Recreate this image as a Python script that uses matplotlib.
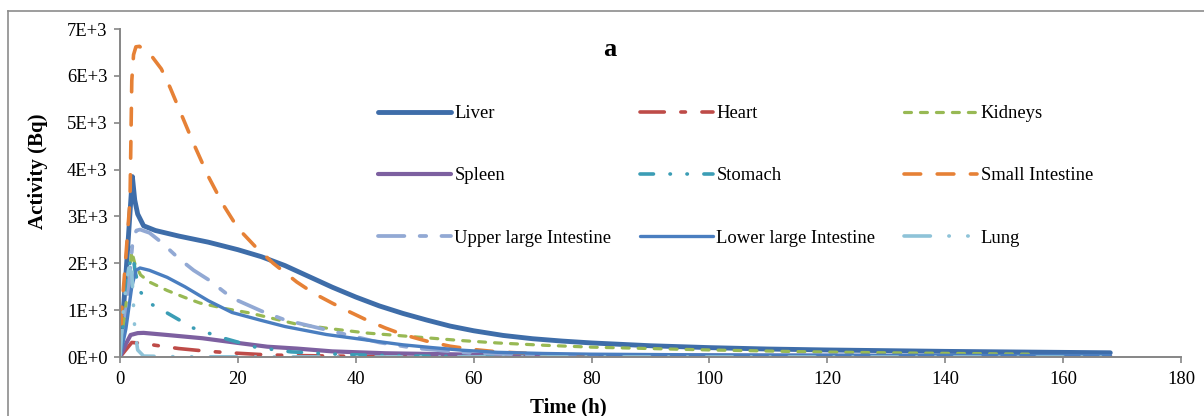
import matplotlib
matplotlib.use("Agg")
import matplotlib.pyplot as plt
from matplotlib.lines import Line2D

plt.rcParams['font.family'] = ['Liberation Serif', 'DejaVu Serif']
plt.rcParams['lines.scale_dashes'] = False

# ---- data ----
liver_t = [0, 1, 2.1, 2.5, 3, 4, 6, 10, 15, 20, 24, 28, 32, 36, 40, 44, 48, 52, 56, 60,
           65, 70, 75, 80, 90, 100, 110, 120, 140, 168]
liver_v = [0, 1750, 3850, 3350, 3050, 2800, 2700, 2580, 2450, 2290, 2140, 1950, 1720, 1490,
           1280, 1090, 930, 790, 660, 560, 460, 390, 340, 300, 240, 200, 170, 150, 120, 90]

heart_t = [0, 2, 4, 6, 10, 15, 20, 25, 30, 40, 50, 60, 80, 168]
heart_v = [0, 310, 290, 250, 180, 120, 80, 45, 30, 15, 8, 4, 2, 0]

kidney_t = [0, 1, 2, 2.5, 3.5, 5, 8, 11, 13.6, 18, 22, 26, 30, 36, 42, 48, 53, 58, 64, 72,
            80, 90, 100, 115, 130, 155]
kidney_v = [0, 1100, 2250, 2000, 1750, 1600, 1420, 1270, 1150, 1030, 940, 820, 700, 600,
            510, 450, 400, 350, 300, 250, 210, 180, 150, 115, 90, 60]

spleen_t = [0, 1, 1.8, 3, 4, 8, 14, 20, 25, 30, 36, 45, 60, 80, 120, 168]
spleen_v = [0, 280, 470, 510, 515, 470, 400, 300, 220, 180, 120, 80, 50, 35, 25, 15]

stomach_t = [0, 1, 2, 2.6, 3.4, 5, 8, 12.4, 17.5, 23, 29, 35, 40, 50, 60, 80, 168]
stomach_v = [0, 1300, 2350, 1800, 1400, 1150, 940, 620, 405, 210, 110, 70, 45, 20, 10, 3, 0]

small_t = [0, 0.3, 0.85, 1.7, 2.0, 2.3, 2.7, 3.3, 4, 5.5, 7, 8.5, 10, 12.5, 15, 17.5, 20,
           23, 26, 30, 33, 36, 39, 42, 45, 48, 52, 56, 60, 64, 72, 80, 100, 140, 168]
small_v = [0, 1000, 1900, 3350, 5900, 6450, 6620, 6630, 6560, 6400, 6150, 5750, 5300, 4550,
           3850, 3250, 2750, 2350, 2000, 1600, 1350, 1150, 960, 780, 620, 480, 340, 230, 160,
           110, 60, 30, 10, 2, 0]

uli_t = [0, 1.5, 2.2, 2.8, 3.4, 5, 7, 10, 12.5, 15, 19, 24, 28, 33, 38, 44, 50, 60, 80, 168]
uli_v = [0, 1500, 2550, 2700, 2720, 2650, 2450, 2100, 1850, 1650, 1260, 980, 790, 640, 490,
         310, 190, 80, 20, 0]

lli_t = [0, 1, 2, 2.7, 3.4, 5, 8, 11, 15, 19, 24, 28, 35, 42, 48, 53, 58, 64, 72, 80, 100,
         130, 168]
lli_v = [0, 600, 1500, 1850, 1900, 1850, 1700, 1500, 1200, 950, 780, 650, 480, 360, 260, 200,
         145, 100, 75, 60, 45, 35, 30]

lung_t = [0, 0.5, 1, 1.5, 2, 2.5, 3, 4, 10, 30, 168]
lung_v = [0, 900, 1500, 1900, 1800, 600, 150, 20, 5, 2, 0]

yticks = [0, 1000, 2000, 3000, 4000, 5000, 6000, 7000]
ytick_labels = ['0E+0', '1E+3', '2E+3', '3E+3', '4E+3', '5E+3', '6E+3', '7E+3']
xticks = [0, 20, 40, 60, 80, 100, 120, 140, 160, 180]

fig = plt.figure(figsize=(12.04, 4.16), dpi=100)
ax = fig.add_axes([120 / 1204, 59 / 416, 1061 / 1204, 328 / 416])

common = dict(solid_capstyle='round', dash_capstyle='round', solid_joinstyle='round')
l_liver, = ax.plot(liver_t, liver_v, color='#3E6DA9', lw=3.5, label='Liver', **common)
l_heart, = ax.plot(heart_t, heart_v, color='#BE4B48', lw=2.6, label='Heart',
                   dashes=(17.5, 11.9, 3.3, 11.9), **common)
l_kid, = ax.plot(kidney_t, kidney_v, color='#98B954', lw=2.3, label='Kidneys',
                 dashes=(5, 6.5), **common)
l_spl, = ax.plot(spleen_t, spleen_v, color='#7D60A0', lw=3.0, label='Spleen', **common)
l_sto, = ax.plot(stomach_t, stomach_v, color='#3B9DB5', lw=2.6, label='Stomach',
                 dashes=(9.7, 11.9, 0.3, 11.9, 0.3, 11.9), **common)
l_small, = ax.plot(small_t, small_v, color='#E68136', lw=2.6, label='Small Intestine',
                   dashes=(12, 11.9), **common)
l_uli, = ax.plot(uli_t, uli_v, color='#92A9D4', lw=2.7, label='Upper large Intestine',
                 dashes=(19, 11, 4.7, 11), **common)
l_lli, = ax.plot(lli_t, lli_v, color='#4A7EC0', lw=2.4, label='Lower large Intestine', **common)
l_lung, = ax.plot(lung_t, lung_v, color='#8EC3D8', lw=2.6, label='Lung',
                  dashes=(19, 13.3, 0.3, 13.3, 0.3, 13.3), **common)

ax.set_xlim(0, 180)
ax.set_ylim(0, 7000)
ax.set_xticks(xticks)
ax.set_yticks(yticks)
ax.set_yticklabels(ytick_labels)
ax.tick_params(axis='both', direction='out', length=4, width=1.2, color='#868686',
               labelsize=13.4, pad=5)
ax.tick_params(axis='x', pad=6)
for side in ['top', 'right']:
    ax.spines[side].set_visible(False)
for side in ['left', 'bottom']:
    ax.spines[side].set_color('#868686')
    ax.spines[side].set_linewidth(1.4)

fig.text(38 / 1204, 1 - 171 / 416, 'Activity (Bq)', rotation=90, fontsize=15,
         fontweight='bold', ha='center', va='center')
fig.text(568 / 1204, 1 - 407 / 416, 'Time (h)', fontsize=15, fontweight='bold',
         ha='center', va='center')
fig.text(610 / 1204, 1 - 50 / 416, 'a', fontsize=19, fontweight='bold',
         ha='center', va='center')

# legend is filled column-wise, reference reads row-wise
order = [l_liver, l_spl, l_uli, l_heart, l_sto, l_lli, l_kid, l_small, l_lung]
fig.legend(handles=order, labels=[h.get_label() for h in order], ncol=3,
           loc='upper left', bbox_to_anchor=(378 / 1204, 1 - 105 / 416),
           frameon=False, fontsize=13.4, handlelength=3.9, handletextpad=0.2,
           columnspacing=1.55, labelspacing=2.43, borderaxespad=0, borderpad=0)

# chart frame (top and left edges visible)
fig.add_artist(Line2D([8 / 1204, 1], [1 - 11 / 416] * 2, color='#8C8C8C', lw=1.2,
                      transform=fig.transFigure))
fig.add_artist(Line2D([8 / 1204] * 2, [0, 1 - 11 / 416], color='#8C8C8C', lw=1.2,
                      transform=fig.transFigure))

fig.savefig('out.png', dpi=100)
